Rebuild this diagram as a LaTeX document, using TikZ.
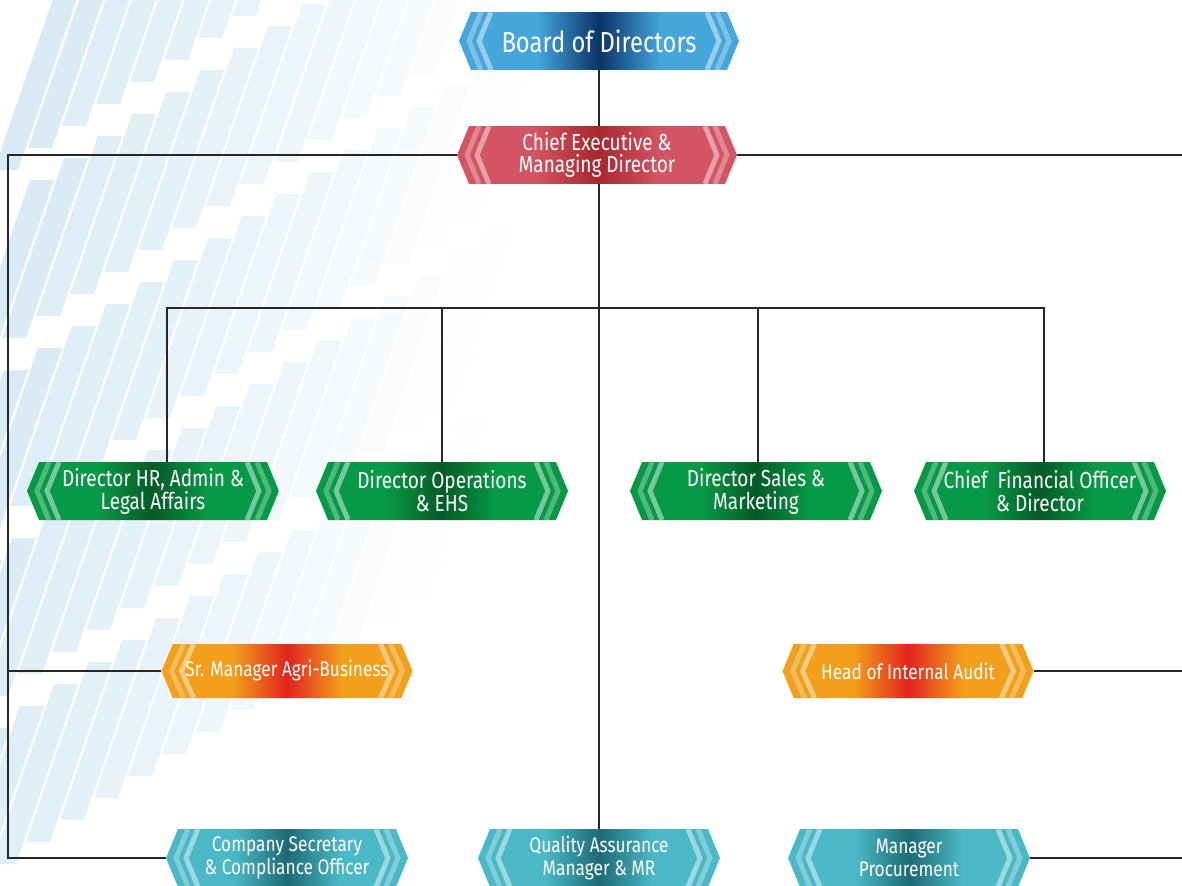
\documentclass[tikz,border=0pt]{standalone}
\usepackage{fontspec}
\setmainfont{Fira Sans}[FakeStretch=0.82]
\usepackage{tikz}
\usetikzlibrary{shapes.symbols}

\definecolor{stripeblue}{HTML}{D3E7F3}
\definecolor{boardlight}{HTML}{45A6DC}
\definecolor{boarddark}{HTML}{0A3468}
\definecolor{ceolight}{HTML}{D35462}
\definecolor{ceodark}{HTML}{A8272E}
\definecolor{dirlight}{HTML}{079A46}
\definecolor{dirdark}{HTML}{045A28}
\definecolor{mgrlight}{HTML}{F2A01B}
\definecolor{mgrdark}{HTML}{E2241F}
\definecolor{stafflight}{HTML}{4AB8C6}
\definecolor{staffdark}{HTML}{1D6B75}

\pgfdeclarehorizontalshading{boardshade}{100bp}{color(0bp)=(boardlight); color(39bp)=(boardlight); color(50bp)=(boarddark); color(61bp)=(boardlight); color(100bp)=(boardlight)}
\pgfdeclarehorizontalshading{ceoshade}{100bp}{color(0bp)=(ceolight); color(39bp)=(ceolight); color(50bp)=(ceodark); color(61bp)=(ceolight); color(100bp)=(ceolight)}
\pgfdeclarehorizontalshading{dirshade}{100bp}{color(0bp)=(dirlight); color(39bp)=(dirlight); color(50bp)=(dirdark); color(61bp)=(dirlight); color(100bp)=(dirlight)}
\pgfdeclarehorizontalshading{mgrshade}{100bp}{color(0bp)=(mgrlight); color(39bp)=(mgrlight); color(50bp)=(mgrdark); color(61bp)=(mgrlight); color(100bp)=(mgrlight)}
\pgfdeclarehorizontalshading{staffshade}{100bp}{color(0bp)=(stafflight); color(39bp)=(stafflight); color(50bp)=(staffdark); color(61bp)=(stafflight); color(100bp)=(stafflight)}

\tikzset{
  orgbox/.style={signal, signal to=west and east, signal pointer angle=135,
    inner sep=0pt, minimum height=1.16cm, text=white, align=center,
    font=\fontsize{12}{13}\selectfont,
    path picture={
      \foreach \o/\a/\b in {0.3/0.44cm/0.2cm, 0.45/0.64cm/0.4cm}{
        \draw[white, opacity=\o, line width=0.1cm]
          ([xshift=\a]path picture bounding box.north west)
          -- ([xshift=\b]path picture bounding box.west)
          -- ([xshift=\a]path picture bounding box.south west);
        \draw[white, opacity=\o, line width=0.1cm]
          ([xshift=-\a]path picture bounding box.north east)
          -- ([xshift=-\b]path picture bounding box.east)
          -- ([xshift=-\a]path picture bounding box.south east);
      }
    }},
  boardbox/.style={orgbox, shading=boardshade, minimum width=5.6cm, font=\fontsize{16.5}{18}\selectfont},
  ceobox/.style={orgbox, shading=ceoshade, minimum width=5.6cm, font=\fontsize{13.2}{12.8}\selectfont},
  dirbox/.style={orgbox, shading=dirshade, minimum width=5.04cm, font=\fontsize{13.2}{13}\selectfont},
  mgrbox/.style={orgbox, shading=mgrshade, minimum width=5.02cm, minimum height=1.08cm},
  staffbox/.style={orgbox, shading=staffshade, minimum width=4.84cm},
  link/.style={line width=1.1pt, black!85}
}

\begin{document}
\begin{tikzpicture}[x=0.02cm, y=-0.02cm]
  \path[use as bounding box, clip] (0,0) rectangle (1182,885);
  \fill[white] (0,0) rectangle (1182,885);

  % faint stripes in the background
  \foreach \i in {0,...,15}{
    \foreach \j in {0,...,5}{
      \pgfmathsetmacro\bx{-110+\i*34+\j*26}
      \pgfmathsetmacro\by{930-\j*190-\i*22}
      \pgfmathsetmacro\op{max(0,0.85-\i*0.055)}
      \fill[stripeblue, opacity=\op] (\bx,\by) -- ++(24,0) -- ++(62,-180) -- ++(-24,0) -- cycle;
    }
  }

  \node[boardbox] (board) at (599,41) {Board of Directors};
  \node[ceobox] (ceo) at (597,155) {Chief Executive \&\\Managing Director};

  \node[dirbox] (hr) at (153,491) {Director HR, Admin \&\\Legal Affairs};
  \node[dirbox] (ops) at (442,491) {Director Operations\\\& EHS};
  \node[dirbox] (sales) at (756,491) {Director Sales \&\\Marketing};
  \node[dirbox] (cfo) at (1040,491) {Chief\ \ Financial Officer\\\& Director};

  \node[mgrbox] (agri) at (287,671) {Sr. Manager Agri-Business};
  \node[mgrbox] (audit) at (908,671) {Head of Internal Audit};

  \node[staffbox] (secy) at (287,858) {Company Secretary\\\& Compliance Officer};
  \node[staffbox] (qa) at (599,858) {Quality Assurance\\Manager \& MR};
  \node[staffbox] (proc) at (909,858) {Manager\\Procurement};

  \coordinate (bus) at (599,308);
  \coordinate (lft) at (8,0);
  \coordinate (rgt) at (1182,0);

  \draw[link] (board.south) -- (board.south |- ceo.north);
  \draw[link] (board.south |- ceo.south) -- (qa.north);
  \draw[link] ([xshift=0.28cm]hr.north) |- (bus) -| ([xshift=0.08cm]cfo.north);
  \draw[link] (ops.north) -- (ops.north |- bus);
  \draw[link] ([xshift=0.04cm]sales.north) -- ([xshift=0.04cm]sales.north |- bus);

  \draw[link] (ceo.west) -- (ceo.west -| lft) -- (lft |- secy.west) -- (secy.west);
  \draw[link] (agri.west) -- (agri.west -| lft);
  \draw[link] (ceo.east) -- (ceo.east -| rgt);
  \draw[link] (audit.east) -- (audit.east -| rgt);
  \draw[link] (proc.east) -- (proc.east -| rgt);
\end{tikzpicture}
\end{document}
